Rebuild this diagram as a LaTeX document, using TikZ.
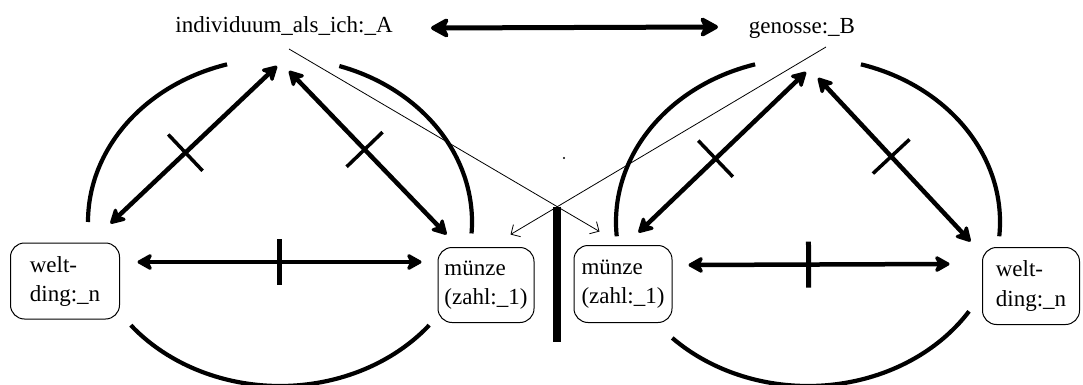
\documentclass[tikz,border=0pt]{standalone}
\usepackage{fontspec}
\setmainfont{Liberation Serif}
\usepackage{tikz}
\usetikzlibrary{arrows.meta, calc}
\tikzstyle{dblarrow} = [line width=4.5pt, {Stealth[length=18pt,width=20pt,inset=5pt,round]}-{Stealth[length=18pt,width=20pt,inset=5pt,round]}]
\tikzstyle{toparrow} = [line width=5pt, {Stealth[length=22pt,width=24pt,inset=6pt,round]}-{Stealth[length=22pt,width=24pt,inset=6pt,round]}]
\tikzstyle{thinarrow} = [line width=0.8pt, -{Straight Barb[length=7pt,width=14pt]}]
\tikzstyle{ring} = [line width=4.2pt]
\tikzstyle{box} = [rectangle, rounded corners=14pt, draw=black, line width=1pt, align=left, inner sep=0pt]
\tikzstyle{persontext} = [inner sep=0pt, anchor=base]
\tikzstyle{slash} = [rectangle, fill=black, inner sep=0pt, minimum width=3.5pt, minimum height=50pt, sloped]
\tikzstyle{flatslash} = [slash, minimum width=5pt, minimum height=46pt]

\begin{document}
\begin{tikzpicture}[x=1pt, y=1pt, font=\fontsize{23}{29}\selectfont]
        \useasboundingbox (0,0) rectangle (1083,-385);
        % Nodes
        \node (ichA) [persontext] at (284,-33) {individuum\_als\_ich:\_A};
        \node (genB) [persontext] at (802,-34) {genosse:\_B};
        \node (weltL) [box, minimum width=109pt, minimum height=76pt] at (65,-281) {welt-\\ding:\_n};
        \node (muenzeL) [box, minimum width=96pt, minimum height=75pt] at (486,-285) {münze\\(zahl:\_1)};
        \node (muenzeR) [box, minimum width=98pt, minimum height=77pt] at (623,-284) {münze\\(zahl:\_1)};
        \node (weltR) [box, minimum width=97pt, minimum height=77pt] at (1031,-286) {welt-\\ding:\_n};

        % Rings
        \coordinate (cL) at (280,-222);
        \coordinate (cR) at (808,-222);
        \draw [ring] ([shift={(106:192 and 164)}]cL) arc[start angle=106, end angle=180, x radius=192, y radius=164];
        \draw [ring] ([shift={(72:192 and 164)}]cL) arc[start angle=72, end angle=-4, x radius=192, y radius=164];
        \draw [ring] ([shift={(219:192 and 164)}]cL) arc[start angle=219, end angle=321, x radius=192, y radius=164];
        \draw [ring] ([shift={(106:192 and 164)}]cR) arc[start angle=106, end angle=185, x radius=192, y radius=164];
        \draw [ring] ([shift={(74:192 and 164)}]cR) arc[start angle=74, end angle=-5, x radius=192, y radius=164];
        \draw [ring] ([shift={(225:192 and 164)}]cR) arc[start angle=225, end angle=327, x radius=192, y radius=164];

        % Arrows
        \draw [toparrow] ([shift={(147,5)}]ichA.base) -- ([shift={(-84,7)}]genB.base);
        \draw [dblarrow] ([shift={(-9.5,19)}]weltL.north east) -- node[slash, pos=0.45] {} ([shift={(-7,-33)}]ichA.base);
        \draw [dblarrow] ([shift={(5,-38)}]ichA.base) -- node[slash, pos=0.48] {} ([shift={(9,12.5)}]muenzeL.north west);
        \draw [dblarrow] ([shift={(17.5,19)}]weltL.east) -- node[flatslash] {} ([shift={(-16,23)}]muenzeL.west);
        \draw [dblarrow] ([shift={(-34,12.5)}]muenzeR.north east) -- node[slash, pos=0.46] {} ([shift={(4,-38)}]genB.base);
        \draw [dblarrow] ([shift={(16,-44)}]genB.base) -- node[slash, pos=0.48] {} ([shift={(-11.5,5.5)}]weltR.north west);
        \draw [dblarrow] ([shift={(16,19)}]muenzeR.east) -- node[flatslash, pos=0.46] {} ([shift={(-32.5,22)}]weltR.west);

        % Crossing lines and the bar below them
        \coordinate (fromA) at ([shift={(5,-16)}]ichA.base);
        \coordinate (toR) at ([shift={(26,13.5)}]muenzeR.north west);
        \coordinate (fromB) at ([shift={(24,-13)}]genB.base);
        \coordinate (toL) at ([shift={(-24,12.5)}]muenzeL.north east);
        \draw [thinarrow] (fromA) -- (toR);
        \draw [thinarrow] (fromB) -- (toL);
        \coordinate (meet) at (intersection of fromA--toR and fromB--toL);
        \draw [line width=8pt] (meet) -- (meet |- 0,-342);
        \fill (564,-158) circle (1.2pt);
    \end{tikzpicture}
\end{document}
